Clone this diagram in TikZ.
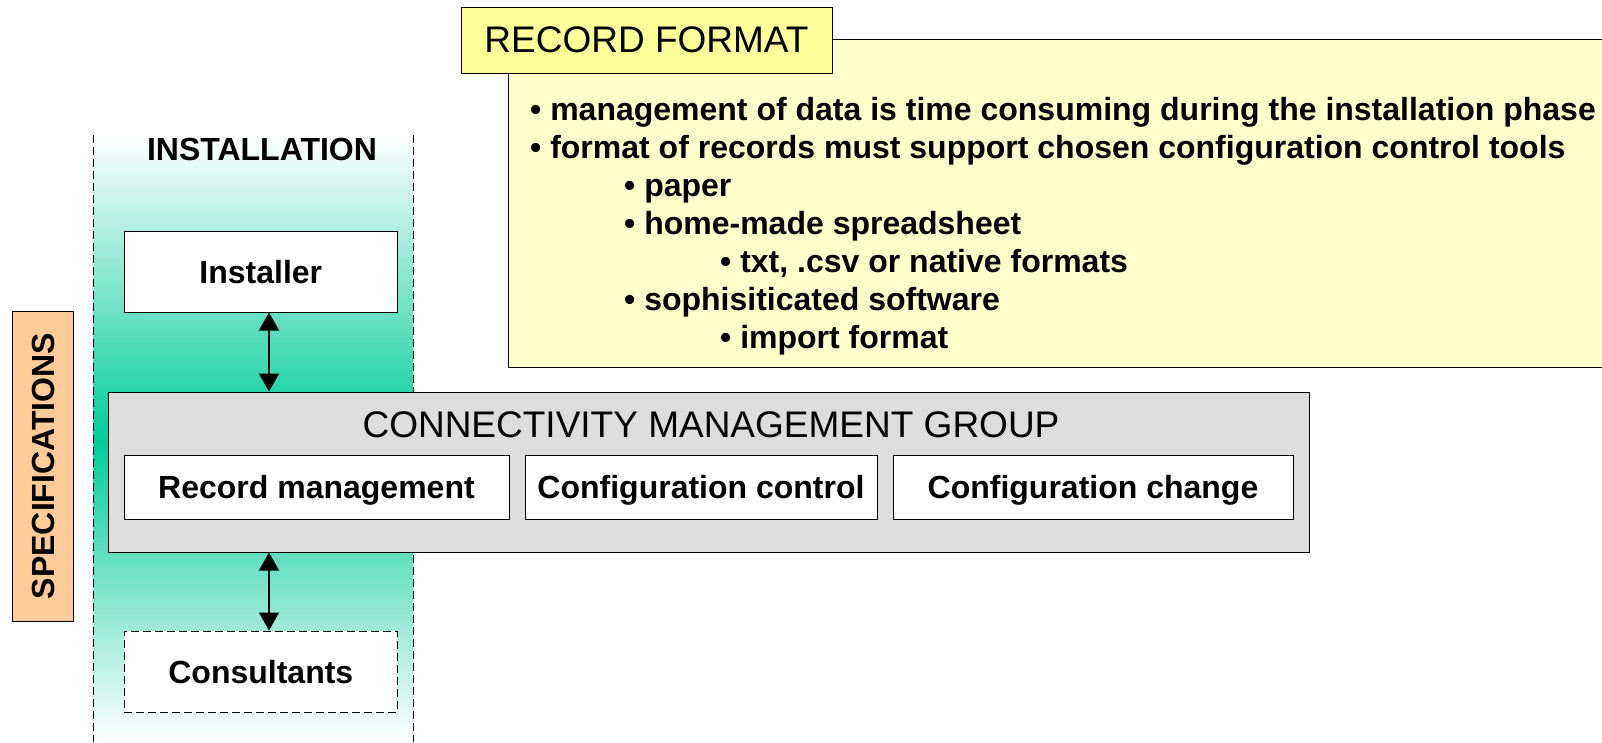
\documentclass[tikz,border=0pt]{standalone}
\usepackage{fontspec}
\setmainfont{Liberation Sans}
\usetikzlibrary{arrows.meta}
\definecolor{lanegreen}{RGB}{0,204,153}
\definecolor{notefill}{RGB}{255,255,204}
\definecolor{labelfill}{RGB}{255,255,153}
\definecolor{groupfill}{RGB}{221,221,221}
\definecolor{specfill}{RGB}{255,204,153}
\begin{document}
\begin{tikzpicture}[x=1pt,y=-1pt]
	\tikzset{
		box/.style={draw,line width=1pt,fill=white,inner sep=0pt,text height=23pt,text depth=0pt,
			font=\fontsize{32}{38}\selectfont\bfseries},
		dashed box/.style={box,dash pattern=on 8pt off 4pt},
		lane/.style={line width=1pt,dash pattern=on 8pt off 4pt},
		link/.style={line width=1.2pt,{Triangle[width=20pt,length=18pt]}-{Triangle[width=20pt,length=18pt]}},
		item/.style={anchor=base west,inner sep=0pt,font=\fontsize{32}{38}\selectfont\bfseries},
		heading/.style={anchor=base,inner sep=0pt,font=\fontsize{37}{44}\selectfont}
	}
	\useasboundingbox (0,0) rectangle (1602,742);
	% installation lane
	\shade[top color=white,bottom color=lanegreen] (93,135) rectangle (413,440);
	\shade[top color=lanegreen,bottom color=white] (93,440) rectangle (413,742);
	\draw[lane] (93,135) -- (93,742);
	\draw[lane] (413,135) -- (413,742);
	\node[anchor=base,inner sep=0pt,font=\fontsize{32}{38}\selectfont\bfseries] (lanetitle) at (262,160) {INSTALLATION};
	% record format note
	\fill[notefill] (508,39) rectangle (1602,367);
	\draw[line width=1pt] (1602,39) -- (508,39) -- (508,367) -- (1602,367);
	\node[draw,line width=1pt,fill=labelfill,minimum width=371pt,minimum height=66pt,inner sep=0pt,
		font=\fontsize{37}{44}\selectfont] (fmt) at (646.5,40) {RECORD FORMAT};
	\foreach \x/\y/\t [count=\i] in {
		530/120/{management of data is time consuming during the installation phase},
		530/158/{format of records must support chosen configuration control tools},
		624/196/{paper},
		624/234/{home-made spreadsheet},
		720/272/{txt, .csv or native formats},
		624/310/{sophisiticated software},
		720/348/{import format}
	}{
		\node[item] (line\i) at (\x,\y) {• \t};
	}
	% group and actors
	\node[box,fill=groupfill,minimum width=1201pt,minimum height=160pt] (cmg) at (708.5,472) {};
	\node[heading] (cmgtitle) at (711,437) {CONNECTIVITY MANAGEMENT GROUP};
	\node[box,minimum width=385pt,minimum height=64pt] (rec) at (316.5,487) {Record management};
	\node[box,minimum width=352pt,minimum height=64pt] (ctrl) at (701,487) {Configuration control};
	\node[box,minimum width=400pt,minimum height=64pt] (chg) at (1093,487) {Configuration change};
	\node[box,minimum width=273pt,minimum height=81pt] (inst) at (260.8,271.5) {Installer};
	\node[dashed box,minimum width=273pt,minimum height=81pt] (cons) at (260.8,671.5) {Consultants};
	\node[box,fill=specfill,rotate=90,minimum width=310pt,minimum height=61pt] (spec) at (42.5,466) {SPECIFICATIONS};
	\coordinate (axis) at (269,0);
	\draw[link] (inst.south -| axis) -- (cmg.north -| axis);
	\draw[link] (cmg.south -| axis) -- (cons.north -| axis);
\end{tikzpicture}
\end{document}
